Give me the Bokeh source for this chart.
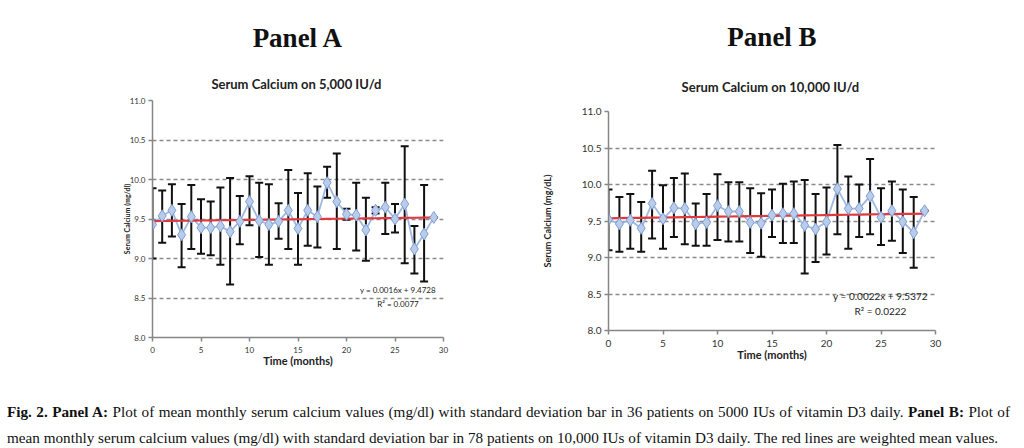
from bokeh.plotting import figure
from bokeh.models import (ColumnDataSource, Whisker, TeeHead, Label, Title,
                          FixedTicker, NumeralTickFormatter, Range1d, Div)
from bokeh.layouts import row, column
from bokeh.embed import file_html
from bokeh.resources import INLINE

# ---------------- data ----------------
months = list(range(30))

a_mean = [9.43, 9.54, 9.61, 9.30, 9.53, 9.39, 9.39, 9.41, 9.34, 9.47,
          9.72, 9.48, 9.43, 9.47, 9.61, 9.38, 9.61, 9.53, 9.96, 9.72,
          9.56, 9.55, 9.36, 9.61, 9.65, 9.50, 9.69, 9.12, 9.31, 9.52]
a_upper = [9.89, 9.86, 9.94, 9.69, 9.93, 9.75, 9.72, 9.90, 10.02, 9.79,
           10.04, 9.96, 9.94, 9.70, 10.12, 9.83, 10.08, 9.91, 10.16, 10.33,
           9.63, 9.96, 9.77, 9.65, 9.96, 9.69, 10.42, 9.41, 9.93, 9.52]
a_lower = [9.00, 9.20, 9.28, 8.89, 9.12, 9.06, 9.04, 8.92, 8.67, 9.18,
           9.42, 9.02, 8.92, 9.25, 9.12, 8.92, 9.16, 9.14, 9.77, 9.12,
           9.49, 9.10, 8.97, 9.57, 9.31, 9.33, 8.94, 8.81, 8.71, 9.52]
a_slope, a_intercept, a_r2 = 0.0016, 9.4728, "0.0077"

b_mean = [9.52, 9.46, 9.51, 9.40, 9.74, 9.53, 9.68, 9.67, 9.46, 9.48,
          9.71, 9.63, 9.63, 9.48, 9.47, 9.58, 9.60, 9.60, 9.44, 9.39,
          9.49, 9.94, 9.67, 9.67, 9.84, 9.55, 9.64, 9.49, 9.34, 9.64]
b_upper = [9.93, 9.83, 9.87, 9.76, 10.19, 9.99, 10.09, 10.15, 9.74, 9.87,
           10.14, 10.03, 10.03, 9.95, 9.88, 9.93, 10.01, 10.04, 10.06, 9.87,
           9.96, 10.54, 10.11, 10.00, 10.35, 9.95, 10.04, 9.93, 9.83, 9.64]
b_lower = [9.10, 9.08, 9.12, 9.08, 9.26, 9.12, 9.28, 9.18, 9.16, 9.16,
           9.24, 9.22, 9.22, 9.06, 9.01, 9.28, 9.20, 9.20, 8.78, 8.94,
           9.04, 9.32, 9.12, 9.28, 9.32, 9.17, 9.23, 9.06, 8.86, 9.64]
b_slope, b_intercept, b_r2 = 0.0022, 9.5372, "0.0222"

x_ticks = [0, 5, 10, 15, 20, 25, 30]
y_ticks = [8.0, 8.5, 9.0, 9.5, 10.0, 10.5, 11.0]

FONT = "Lato"
AXIS_GRAY = "#868686"


def make_panel(panel_title, subtitle, mean, upper, lower, slope, intercept, r2,
               ylabel, width, height, bl, br, bt, bb, tick_fs, ylab_fs,
               eq_pos, eq_fs, ylab_standoff, sub_standoff, panel_standoff):
    p = figure(width=width, height=height, output_backend="svg",
               toolbar_location=None, x_range=Range1d(0, 30),
               y_range=Range1d(8, 11),
               min_border_left=bl, min_border_right=br,
               min_border_top=bt, min_border_bottom=bb)
    p.outline_line_color = None
    p.background_fill_color = "white"
    p.border_fill_color = "white"

    # titles (outer: panel name, inner: chart title)
    p.title.text = panel_title
    p.title.align = "center"
    p.title.text_font = "Liberation Serif"
    p.title.text_font_style = "bold"
    p.title.text_font_size = "27px"
    p.title.text_color = "#111111"
    p.title.standoff = panel_standoff
    p.add_layout(Title(text=subtitle, align="center", text_font=FONT,
                       text_font_style="bold", text_font_size="13px",
                       text_color="#222222", standoff=sub_standoff), "above")

    # axes
    p.xaxis.ticker = FixedTicker(ticks=x_ticks)
    p.yaxis.ticker = FixedTicker(ticks=y_ticks)
    p.yaxis.formatter = NumeralTickFormatter(format="0.0")
    for ax in (p.xaxis, p.yaxis):
        ax.axis_line_color = AXIS_GRAY
        ax.axis_line_width = 1.5
        ax.major_tick_line_color = AXIS_GRAY
        ax.major_tick_line_width = 1.5
        ax.minor_tick_line_color = None
        ax.major_tick_in = 0
        ax.major_tick_out = 4
        ax.major_label_text_font = FONT
        ax.major_label_text_font_size = tick_fs
        ax.major_label_text_color = "#333333"
        ax.axis_label_text_font = FONT
        ax.axis_label_text_font_style = "bold"
        ax.axis_label_text_color = "#222222"
    p.xaxis.axis_label = "Time (months)"
    p.xaxis.axis_label_text_font_size = "11px"
    p.xaxis.major_label_standoff = 5
    p.xaxis.axis_label_standoff = -2
    p.yaxis.axis_label = ylabel
    p.yaxis.axis_label_text_font_size = ylab_fs
    p.yaxis.major_label_standoff = 3
    p.yaxis.axis_label_standoff = ylab_standoff

    p.xgrid.visible = False
    p.ygrid.grid_line_color = "#8a8a8a"
    p.ygrid.grid_line_dash = "4 3"
    p.ygrid.grid_line_width = 1.5

    src = ColumnDataSource(dict(x=months, y=mean, upper=upper, lower=lower,
                                trend=[intercept + slope * m for m in months]))

    w = Whisker(base="x", upper="upper", lower="lower", source=src,
                line_color="#111111", line_width=2,
                upper_head=TeeHead(size=8, line_color="#111111", line_width=2),
                lower_head=TeeHead(size=8, line_color="#111111", line_width=2),
                level="underlay")
    p.add_layout(w)

    p.line("x", "y", source=src, line_color="#9DB8E2", line_width=1.8)
    p.line("x", "trend", source=src, line_color="#E0383C", line_width=2.2)
    p.scatter("x", "y", source=src, marker="diamond", size=12,
              fill_color="#B9CDEB", line_color="#7E9ED6", line_width=1)

    ex, ey1, ey2 = eq_pos
    p.add_layout(Label(x=ex, y=ey1, text=f"y = {slope}x + {intercept}",
                       text_align="center", text_baseline="middle",
                       text_font=FONT, text_font_size=eq_fs,
                       text_color="#222222"))
    p.add_layout(Label(x=ex, y=ey2, text="R² = " + r2,
                       text_align="center", text_baseline="middle",
                       text_font=FONT, text_font_size=eq_fs,
                       text_color="#222222"))
    return p


H = 385
pa = make_panel("Panel A", "Serum Calcium  on 5,000 IU/d", a_mean, a_upper,
                a_lower, a_slope, a_intercept, a_r2, "Serum Calcium (mg/dl)",
                490, H, 152, 47, 100, H - 337, "8px", "7px",
                (25.3, 8.60, 8.43), "8px", -4, 18, 23)
pb = make_panel("Panel B", "Serum Calcium  on 10,000 IU/d", b_mean, b_upper,
                b_lower, b_slope, b_intercept, b_r2, "Serum Calcium (mg/dL)",
                534, H, 118, 89, 111, H - 330, "10px", "9px",
                (24.95, 8.47, 8.27), "10px", 26, 33, 18)

caption = Div(width=1024, height=448 - H, text=(
    "<div style=\"font-family:'Liberation Serif',serif;font-size:15.2px;"
    "line-height:26px;margin-top:9px;padding-left:2px;width:1005px;color:#111;\">"
    "<div style=\"text-align:justify;text-align-last:justify;\">"
    "<b>Fig. 2. Panel A:</b> Plot of mean monthly serum calcium values (mg/dl) "
    "with standard deviation bar in 36 patients on 5000 IUs of vitamin D3 daily. "
    "<b>Panel B:</b> Plot of</div>"
    "<div>mean monthly serum calcium values (mg/dl) with standard deviation bar "
    "in 78 patients on 10,000 IUs of vitamin D3 daily. The red lines are "
    "weighted mean values.</div></div>"))

layout = column(row(column(pa), column(pb)), caption)
open("out.html", "w").write(file_html(layout, INLINE))
